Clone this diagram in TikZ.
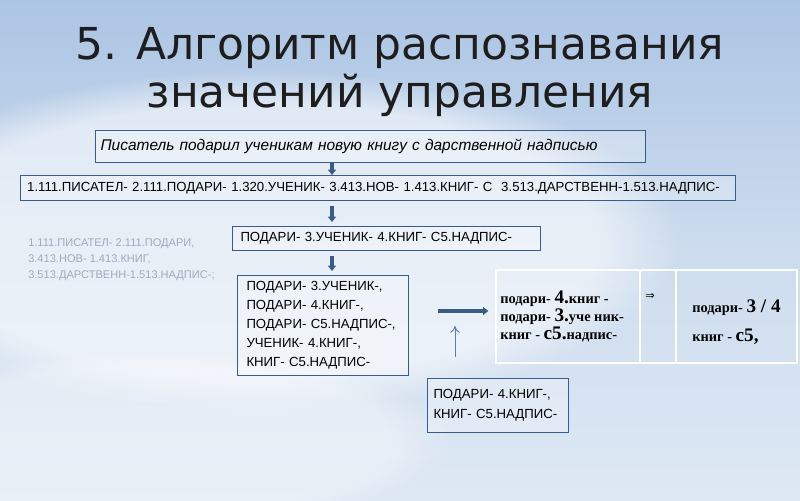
\documentclass[tikz,border=0pt]{standalone}
\usepackage{fontspec}
\usetikzlibrary{arrows.meta,fadings}
\newfontfamily\arialf{Liberation Sans}
\newfontfamily\timesf{Liberation Serif}
\newfontfamily\titlef{DejaVu Sans}
\definecolor{boxborder}{RGB}{56,93,138}
\definecolor{arrowblue}{RGB}{58,90,140}
\definecolor{bgtop}{RGB}{172,197,228}
\definecolor{bgmid}{RGB}{205,220,238}
\definecolor{bgbot}{RGB}{222,232,244}
\definecolor{graytext}{RGB}{160,170,188}
\definecolor{titlecol}{RGB}{30,30,30}
\tikzset{
  box/.style={draw=boxborder, line width=0.75pt, fill=white, fill opacity=0.25, text opacity=1,
    rectangle, inner ysep=0pt, inner xsep=4.5pt, align=left, anchor=north west},
  cell/.style={draw=white, line width=1.3pt, rectangle, inner sep=0pt, anchor=north west},
  thickarrow/.style={draw=arrowblue, line width=2.4pt, -{Triangle[length=4pt,width=6pt]}},
  thinarrow/.style={draw=arrowblue!80, line width=0.7pt, -{To[length=5pt,width=7pt]}},
  bodyfont/.style={font=\arialf\fontsize{9.9pt}{14.25pt}\selectfont, text=black},
  tabfont/.style={font=\timesf\bfseries\fontsize{10.8pt}{13.5pt}\selectfont},
}
\newcommand{\bigdig}[1]{{\fontsize{14.4pt}{13.5pt}\selectfont #1}}
\begin{document}
\begin{tikzpicture}[x=0.75pt,y=-0.75pt]
\useasboundingbox (0,0) rectangle (800,500);
% background
\shade[top color=bgtop, bottom color=bgbot, middle color=bgmid] (0,0) rectangle (800,500);
\fill[white, opacity=0.55, path fading=circle with fuzzy edge 20 percent] (260,240) ellipse (420 and 170);
\fill[white, opacity=0.35, path fading=circle with fuzzy edge 20 percent] (150,440) ellipse (300 and 90);
% title
\node[font=\titlef\fontsize{33pt}{38pt}\selectfont, text=titlecol, anchor=center] (t1) at (400,48) {5. Алгоритм распознавания};
\node[font=\titlef\fontsize{33pt}{38pt}\selectfont, text=titlecol, anchor=center] (t2) at (400,95) {значений управления};
% boxes
\node[box, minimum width=412.5pt, minimum height=24pt, text width=405pt, inner xsep=3.75pt,
      font=\arialf\itshape\fontsize{11.6pt}{13pt}\selectfont] (b1) at (95,130)
  {Писатель подарил ученикам новую книгу с дарственной надписью};
\node[box, bodyfont, minimum width=536.25pt, minimum height=18.75pt, text width=526.25pt, inner xsep=5pt] (b2) at (20,175)
  {1.111.ПИСАТЕЛ- 2.111.ПОДАРИ- 1.320.УЧЕНИК- 3.413.НОВ- 1.413.КНИГ- С\ \ 3.513.ДАРСТВЕНН-1.513.НАДПИС-};
\node[anchor=north west, align=left, inner sep=0pt, text=graytext,
      font=\arialf\fontsize{8.3pt}{12pt}\selectfont] (gray) at (28,239)
  {1.111.ПИСАТЕЛ- 2.111.ПОДАРИ,\\3.413.НОВ- 1.413.КНИГ,\\3.513.ДАРСТВЕНН-1.513.НАДПИС-;};
\node[box, bodyfont, minimum width=231pt, minimum height=18pt, text width=219pt, inner xsep=6pt] (b3) at (232,226)
  {ПОДАРИ- 3.УЧЕНИК- 4.КНИГ- С5.НАДПИС-};
\node[box, bodyfont, minimum width=128.25pt, minimum height=75pt, text width=114.75pt, inner xsep=6.75pt] (b4) at (237,275)
  {ПОДАРИ- 3.УЧЕНИК-,\\ПОДАРИ- 4.КНИГ-,\\ПОДАРИ- С5.НАДПИС-,\\УЧЕНИК- 4.КНИГ-,\\КНИГ- С5.НАДПИС-};
\node[box, bodyfont, minimum width=105.75pt, minimum height=40.5pt, text width=96.75pt,
      font=\arialf\fontsize{9.9pt}{15pt}\selectfont] (b5) at (427,378)
  {ПОДАРИ- 4.КНИГ-,\\КНИГ- С5.НАДПИС-};
% table
\node[cell, minimum width=108pt, minimum height=69.75pt] (c1) at (495,269) {};
\node[cell, minimum width=27pt, minimum height=69.75pt] (c2) at (639,269) {};
\node[cell, minimum width=90.75pt, minimum height=69.75pt] (c3) at (675,269) {};
\node[anchor=west, align=left, inner sep=0pt, tabfont] (c1t) at (500,316)
  {подари- \bigdig{4.}книг -\\подари- \bigdig{3.}уче ник-\\книг - \bigdig{с5.}надпис-};
\node[anchor=center, inner sep=0pt, font=\titlef\fontsize{8.5pt}{9pt}\selectfont] (c2t) at (650,297) {⇒};
\node[anchor=west, inner sep=0pt, tabfont] (c3a) at (692,308)
  {подари- \bigdig{3 / 4}};
\node[anchor=west, inner sep=0pt, tabfont] (c3b) at (692,337)
  {книг - \bigdig{с5,}};
% connectors
\coordinate (ax) at (332,0);
\draw[thickarrow] (b1.south -| ax) -- (b2.north -| ax);
\draw[thickarrow, shorten <=3.5pt, shorten >=3pt] (b2.south -| ax) -- (b3.north -| ax);
\draw[thickarrow, shorten <=3.5pt, shorten >=3pt] (b3.south -| ax) -- (b4.north -| ax);
\coordinate (hy) at (0,311);
\draw[thickarrow, shorten <=21.75pt, shorten >=5pt] (b4.east |- hy) -- (c1.west |- hy);
\coordinate (up) at (455,326);
\draw[thinarrow, shorten <=15.75pt] (b5.north -| up) -- (up);
\end{tikzpicture}
\end{document}
